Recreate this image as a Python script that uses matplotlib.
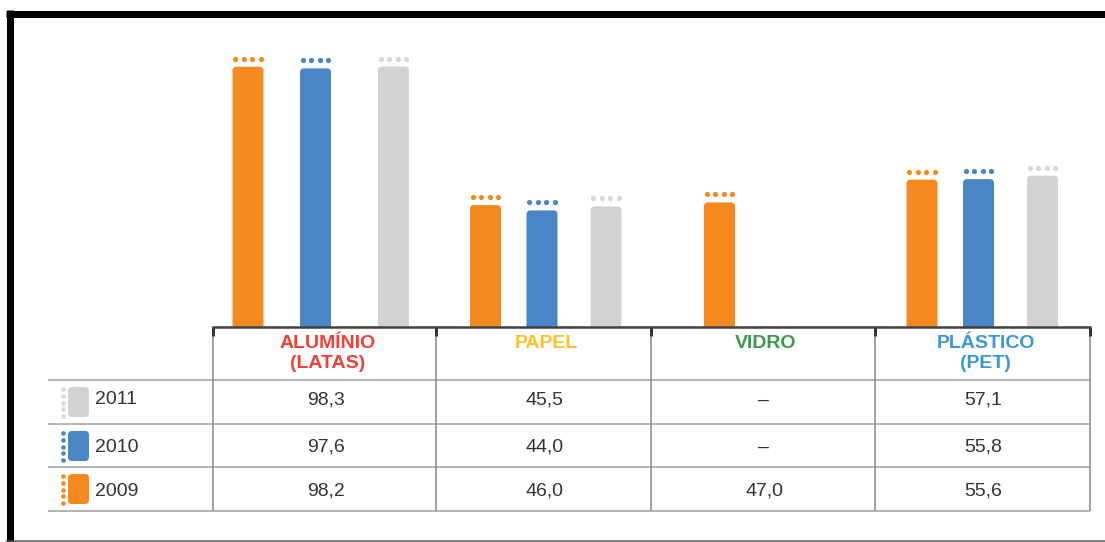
import matplotlib
matplotlib.use("Agg")
import matplotlib.pyplot as plt
from matplotlib.patches import FancyBboxPatch

plt.rcParams["font.family"] = ["Liberation Sans", "DejaVu Sans"]

# ---- data -------------------------------------------------------------
categories = ["ALUMÍNIO\n(LATAS)", "PAPEL", "VIDRO", "PLÁSTICO\n(PET)"]
years = ["2009", "2010", "2011"]
values_2009 = [98.2, 46.0, 47.0, 55.6]
values_2010 = [97.6, 44.0, None, 55.8]
values_2011 = [98.3, 45.5, None, 57.1]
row_order = ["2011", "2010", "2009"]  # table rows from top to bottom

# ---- style ------------------------------------------------------------
W, H = 1105, 542
series_colors = {"2009": "#F48A1F", "2010": "#4A85C5", "2011": "#D1D2D4"}
dot_colors = {"2009": "#F48A1F", "2010": "#4A85C5", "2011": "#D6D7D9"}
header_colors = ["#EF4136", "#FDC12A", "#3B9A48", "#3C97D3"]
text_color = "#333333"

# layout in pixel units
col_edges = [213, 436, 651, 875, 1090]
slot_x = [[248, 315.5, 393.5], [485.5, 542, 606], [719.5, None, None], [922, 978.5, 1042.5]]
baseline_y = 327
row_lines = [380, 424, 467, 511]
row_text_y = [400, 447, 491]
px_per_unit = 2.65
bar_w = 31


def lw(px):
    return px * 72 / 100


fig = plt.figure(figsize=(W / 100, H / 100), dpi=100)

# ---- bars -------------------------------------------------------------
top_px = 20
axb = fig.add_axes([col_edges[0] / W, (H - baseline_y) / H,
                    (col_edges[-1] - col_edges[0]) / W, (baseline_y - top_px) / H])
axb.set_xlim(col_edges[0], col_edges[-1])
axb.set_ylim(0, (baseline_y - top_px) / px_per_unit)
axb.axis("off")

series = {"2009": values_2009, "2010": values_2010, "2011": values_2011}
radius = 4.0
for si, yr in enumerate(years):
    xs, hs = [], []
    for ci, v in enumerate(series[yr]):
        if v is None:
            continue
        xs.append(slot_x[ci][si])
        hs.append(v)
    bars = axb.bar(xs, hs, width=bar_w, color=series_colors[yr], linewidth=0)
    for rect in bars:
        x0, w, h = rect.get_x(), rect.get_width(), rect.get_height()
        rect.set_visible(False)
        # rounded-top version of the same bar
        ext = radius / px_per_unit
        patch = FancyBboxPatch((x0, -ext), w, h + ext,
                               boxstyle=f"round,pad=0,rounding_size={radius}",
                               mutation_aspect=1 / px_per_unit,
                               facecolor=series_colors[yr], edgecolor="none")
        axb.add_patch(patch)
        # row of four dots above each bar
        cx = x0 + w / 2
        dx = [-12.75, -4.25, 4.25, 12.75]
        axb.scatter([cx + d for d in dx], [h + 8 / px_per_unit] * 4,
                    s=14, color=dot_colors[yr], linewidths=0, clip_on=False)

# ---- table and frame --------------------------------------------------
ax = fig.add_axes([0, 0, 1, 1], zorder=3)
ax.set_xlim(0, W)
ax.set_ylim(H, 0)
ax.axis("off")
ax.patch.set_alpha(0)

# frame
ax.plot([6, W], [13.5, 13.5], color="black", lw=lw(7), solid_capstyle="butt")
ax.plot([9.5, 9.5], [10, H], color="black", lw=lw(7), solid_capstyle="butt")
ax.plot([6, W], [540.5, 540.5], color="#555555", lw=lw(1.5), solid_capstyle="butt")

# row separators
for y in row_lines:
    ax.plot([48, col_edges[-1]], [y, y], color="#B5B5B5", lw=lw(2), solid_capstyle="butt")

# column separators with top ticks
for x in col_edges:
    ax.plot([x, x], [baseline_y, row_lines[-1]], color="#8C8C8C", lw=lw(1.6),
            solid_capstyle="butt")
    ax.plot([x, x], [baseline_y, baseline_y + 9], color="#333333", lw=lw(3),
            solid_capstyle="butt")

# baseline
ax.plot([col_edges[0] - 1, col_edges[-1] + 1], [baseline_y, baseline_y],
        color="#404040", lw=lw(2.5), solid_capstyle="butt")

# column headers
for ci, name in enumerate(categories):
    cx = (col_edges[ci] + col_edges[ci + 1]) / 2 + 3
    for li, line in enumerate(name.split("\n")):
        ax.text(cx, 344 + li * 19, line, ha="center", va="center",
                fontsize=14, fontweight="bold", color=header_colors[ci])

# table rows
for ri, yr in enumerate(row_order):
    y = row_text_y[ri]
    vals = series[yr]
    for ci, v in enumerate(vals):
        cx = (col_edges[ci] + col_edges[ci + 1]) / 2 + 1
        label = "–" if v is None else f"{v:.1f}".replace(".", ",")
        ax.text(cx, y, label, ha="center", va="center", fontsize=14, color=text_color)
    # year label and legend swatch
    ax.text(95, y, yr, ha="left", va="center", fontsize=14, color=text_color)
    sq_top = row_lines[ri] + 7
    sw = FancyBboxPatch((68, sq_top), 21, 30,
                        boxstyle="round,pad=0,rounding_size=4",
                        facecolor=series_colors[yr], edgecolor="none")
    ax.add_patch(sw)
    ax.scatter([63] * 5, [sq_top + 2 + k * 6.8 for k in range(5)], s=11,
               color=dot_colors[yr], linewidths=0)

fig.savefig("out.png", dpi=100)
